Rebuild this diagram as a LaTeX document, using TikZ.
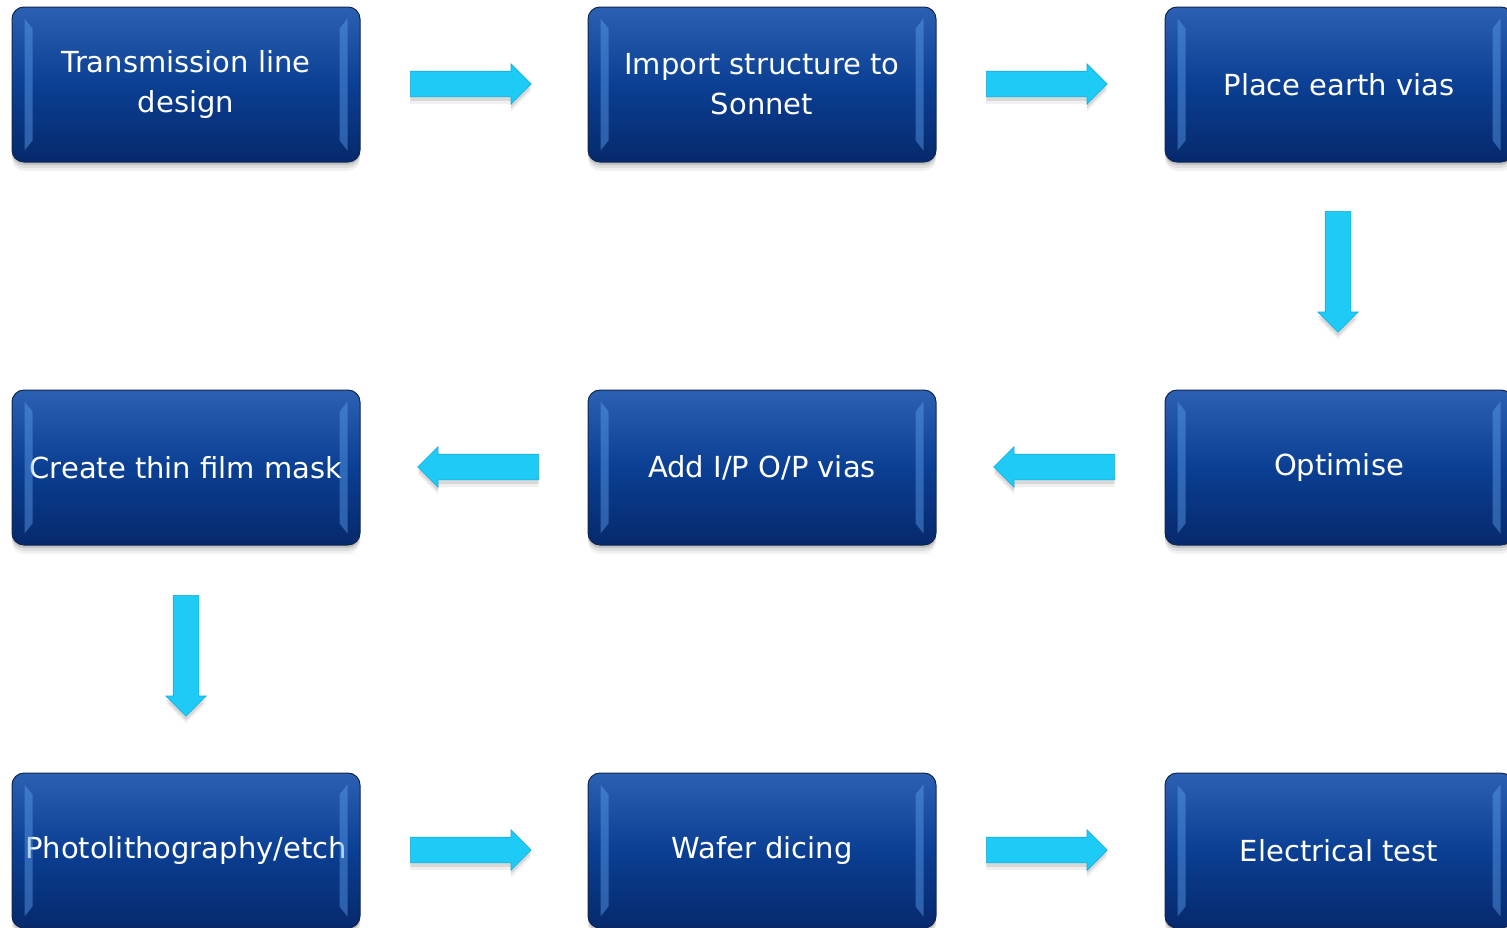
\documentclass[tikz,border=0pt]{standalone}
\usepackage{fontspec}
\setmainfont{DejaVu Sans}
\usetikzlibrary{shapes.arrows,shadows,calc}
\definecolor{boxtop}{HTML}{2C60B2}
\definecolor{boxmid}{HTML}{0B3F93}
\definecolor{boxbot}{HTML}{06296C}
\definecolor{boxedge}{HTML}{102650}
\definecolor{bevel}{HTML}{5C9EEA}
\definecolor{arrowfill}{HTML}{1ECBF7}
\definecolor{arrowedge}{HTML}{18A9D6}
\tikzset{
  stepbox/.style={rectangle, rounded corners=12pt, minimum width=348pt, minimum height=155pt,
    draw=boxedge, line width=1pt, top color=boxtop, bottom color=boxbot, middle color=boxmid,
    text=white, align=center, inner sep=0pt, font=\fontsize{29}{40}\selectfont,
    drop shadow={shadow xshift=0pt, shadow yshift=-3pt, opacity=0.12, fill=black},
    drop shadow={shadow xshift=0pt, shadow yshift=-6pt, opacity=0.08, fill=black},
    drop shadow={shadow xshift=0pt, shadow yshift=-9pt, opacity=0.05, fill=black}},
  flowarrow/.style={single arrow, draw=arrowedge, fill=arrowfill, line width=0.6pt,
    minimum height=121pt, minimum width=40pt, single arrow head extend=7.5pt,
    anchor=tail,
    drop shadow={shadow xshift=0pt, shadow yshift=-4pt, opacity=0.10, fill=black},
    drop shadow={shadow xshift=0pt, shadow yshift=-7pt, opacity=0.06, fill=black}},
  harrow/.style={flowarrow, inner xsep=0pt, inner ysep=12.5pt},
  varrow/.style={flowarrow, inner xsep=12.5pt, inner ysep=0pt, shape border rotate=270},
  bevelstrip/.style={fill=bevel, opacity=0.45}
}
\newcommand{\bevelbox}[1]{%
  \fill[bevelstrip] ($(#1.north west)+(13,12)$) -- ($(#1.north west)+(21,22)$) -- ($(#1.south west)+(21,-22)$) -- ($(#1.south west)+(13,-12)$) -- cycle;
  \fill[bevelstrip] ($(#1.north east)+(-13,12)$) -- ($(#1.north east)+(-21,22)$) -- ($(#1.south east)+(-21,-22)$) -- ($(#1.south east)+(-13,-12)$) -- cycle;
}
\begin{document}
\begin{tikzpicture}[x=1pt,y=-1pt]
\useasboundingbox (0,0) rectangle (1507,927);
% boxes
\node[stepbox] (b1) at (186,84.5) {Transmission line\\design};
\node[stepbox] (b2) at (762,84.5) {Import structure to\\Sonnet};
\node[stepbox] (b3) at (1339,84.5) {Place earth vias};
\node[stepbox] (b4) at (1339,467.5) {Optimise};
\node[stepbox] (b5) at (762,467.5) {Add I/P O/P vias};
\node[stepbox] (b6) at (186,467.5) {Create thin film mask};
\node[stepbox] (b7) at (186,850.5) {Photolithography/etch};
\node[stepbox] (b8) at (762,850.5) {Wafer dicing};
\node[stepbox] (b9) at (1339,850.5) {Electrical test};
\foreach \b in {b1,b2,b3,b4,b5,b6,b7,b8,b9} {\bevelbox{\b}}
% arrows (placed by their tails)
\node[harrow] (a1) at (410,84) {};
\node[harrow] (a2) at (986,84) {};
\node[varrow] (a3) at (1338,211) {};
\node[harrow, shape border rotate=180] (a4) at (1115,467) {};
\node[harrow, shape border rotate=180] (a5) at (539,467) {};
\node[varrow] (a6) at (186,595) {};
\node[harrow] (a7) at (410,850) {};
\node[harrow] (a8) at (986,850) {};
\end{tikzpicture}
\end{document}
